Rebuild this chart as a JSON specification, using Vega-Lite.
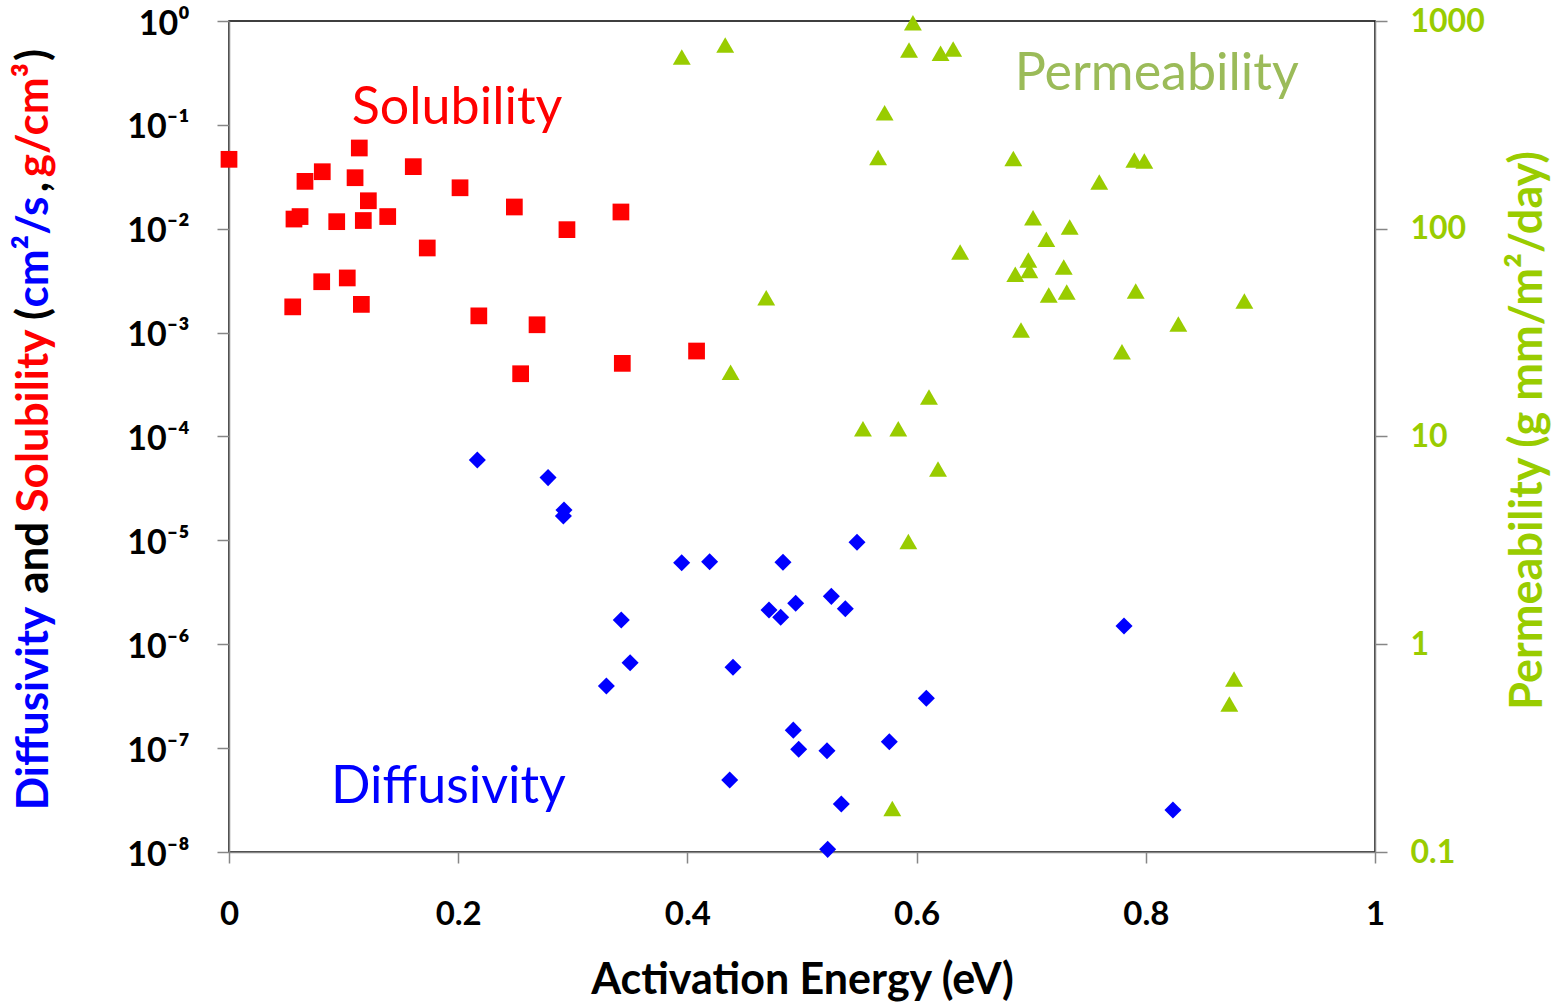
{
  "$schema": "https://vega.github.io/schema/vega-lite/v6.json",
  "width": 1146,
  "height": 831,
  "autosize": "none",
  "padding": {"left": 229, "top": 21, "right": 182, "bottom": 153},
  "background": "white",
  "config": {
    "view": {"stroke": "#000000", "strokeWidth": 1.5},
    "axis": {"grid": false, "labelFlush": false, "labelOverlap": false, "labelBound": false}
  },
  "datasets": {
    "sol": [
      {"e": 0.000, "v": 0.0466}, {"e": 0.1137, "v": 0.0599}, {"e": 0.0814, "v": 0.0354}, {"e": 0.0663, "v": 0.0286},
      {"e": 0.110, "v": 0.031}, {"e": 0.1608, "v": 0.0396}, {"e": 0.1216, "v": 0.0186}, {"e": 0.2016, "v": 0.0248},
      {"e": 0.0567, "v": 0.0124}, {"e": 0.062, "v": 0.0131}, {"e": 0.094, "v": 0.0117}, {"e": 0.1172, "v": 0.0120},
      {"e": 0.1385, "v": 0.0131}, {"e": 0.249, "v": 0.0162}, {"e": 0.342, "v": 0.0145}, {"e": 0.2949, "v": 0.0098},
      {"e": 0.173, "v": 0.00653}, {"e": 0.0809, "v": 0.00309}, {"e": 0.1032, "v": 0.00336}, {"e": 0.0556, "v": 0.00177},
      {"e": 0.1155, "v": 0.00187}, {"e": 0.218, "v": 0.00145}, {"e": 0.2688, "v": 0.00119}, {"e": 0.408, "v": 0.000665},
      {"e": 0.3432, "v": 0.000506}, {"e": 0.2545, "v": 0.000402}
    ],
    "dif": [
      {"e": 0.2167, "v": 5.94e-5}, {"e": 0.2784, "v": 4.02e-5}, {"e": 0.2923, "v": 1.96e-5}, {"e": 0.2918, "v": 1.72e-5},
      {"e": 0.548, "v": 9.6e-6}, {"e": 0.395, "v": 6.1e-6}, {"e": 0.4194, "v": 6.24e-6}, {"e": 0.4834, "v": 6.15e-6},
      {"e": 0.5256, "v": 2.89e-6}, {"e": 0.4945, "v": 2.48e-6}, {"e": 0.4712, "v": 2.14e-6}, {"e": 0.5378, "v": 2.2e-6},
      {"e": 0.4814, "v": 1.82e-6}, {"e": 0.3423, "v": 1.71e-6}, {"e": 0.350, "v": 6.64e-7}, {"e": 0.4398, "v": 6.0e-7},
      {"e": 0.3293, "v": 3.96e-7}, {"e": 0.6085, "v": 3.02e-7}, {"e": 0.4924, "v": 1.49e-7}, {"e": 0.5762, "v": 1.15e-7},
      {"e": 0.4971, "v": 9.73e-8}, {"e": 0.5218, "v": 9.45e-8}, {"e": 0.4369, "v": 4.93e-8}, {"e": 0.5343, "v": 2.9e-8},
      {"e": 0.5224, "v": 1.06e-8}, {"e": 0.781, "v": 1.5e-6}, {"e": 0.8237, "v": 2.54e-8}
    ],
    "perm": [
      {"e": 0.3951, "v": 671}, {"e": 0.433, "v": 766}, {"e": 0.5968, "v": 981}, {"e": 0.5934, "v": 725},
      {"e": 0.6209, "v": 699}, {"e": 0.6319, "v": 733}, {"e": 0.5721, "v": 362}, {"e": 0.5664, "v": 220},
      {"e": 0.6844, "v": 218}, {"e": 0.790, "v": 214}, {"e": 0.7987, "v": 212}, {"e": 0.7594, "v": 168},
      {"e": 0.7016, "v": 113}, {"e": 0.7336, "v": 102}, {"e": 0.7132, "v": 89}, {"e": 0.638, "v": 77.3},
      {"e": 0.6975, "v": 70.8}, {"e": 0.6984, "v": 62.9}, {"e": 0.6861, "v": 60.4}, {"e": 0.7284, "v": 65.5},
      {"e": 0.7153, "v": 48}, {"e": 0.731, "v": 49.6}, {"e": 0.7912, "v": 50.2}, {"e": 0.886, "v": 44.9},
      {"e": 0.4688, "v": 46.6}, {"e": 0.6911, "v": 32.6}, {"e": 0.8284, "v": 34.8}, {"e": 0.7792, "v": 25.6},
      {"e": 0.4377, "v": 20.4}, {"e": 0.6108, "v": 15.5}, {"e": 0.5532, "v": 10.9}, {"e": 0.584, "v": 10.9},
      {"e": 0.6187, "v": 6.97}, {"e": 0.5928, "v": 3.12}, {"e": 0.877, "v": 0.680}, {"e": 0.8729, "v": 0.516},
      {"e": 0.5788, "v": 0.162}
    ],
    "notes": [
      {"e": 0.199, "v": 0.1019, "t": "Solubility", "k": "S"},
      {"e": 0.8095, "v": 0.2167, "t": "Permeability", "k": "PL"},
      {"e": 0.1915, "v": 2.96e-8, "t": "Diffusivity", "k": "D"}
    ],
    "ytitle": [
      {"e": -0.1579, "v": 2.405e-7, "t": "Diffusivity", "k": "D"},
      {"e": -0.1579, "v": 6.8e-6, "t": "and", "k": "o"},
      {"e": -0.1579, "v": 1.41e-4, "t": "Solubility", "k": "S"},
      {"e": -0.1579, "v": 1.51e-3, "t": "(", "k": "o"},
      {"e": -0.1579, "v": 5.97e-3, "t": "cm²/s", "k": "D"},
      {"e": -0.1579, "v": 0.0252, "t": ",", "k": "o"},
      {"e": -0.1579, "v": 0.1114, "t": "g/cm³", "k": "S"},
      {"e": -0.1579, "v": 0.4700, "t": ")", "k": "o"}
    ]
  },
  "encoding": {
    "x": {
      "field": "e", "type": "quantitative",
      "scale": {"domain": [0, 1], "nice": false, "zero": false},
      "axis": {
        "values": [0, 0.2, 0.4, 0.6, 0.8, 1], "format": "~g",
        "domainColor": "#868686", "domainWidth": 1.5, "tickColor": "#868686", "tickWidth": 1.5, "tickSize": 11,
        "labelFont": "Lato", "labelFontWeight": "bold", "labelFontSize": 33, "labelColor": "#000000", "labelPadding": 35,
        "title": "Activation Energy (eV)", "titleFont": "Lato", "titleFontWeight": "bold", "titleFontSize": 43,
        "titleColor": "#000000", "titleBaseline": "alphabetic", "titleY": 141
      }
    }
  },
  "layer": [
    {
      "encoding": {
        "y": {
          "field": "v", "type": "quantitative",
          "scale": {"type": "log", "domain": [1e-8, 1], "nice": false},
          "axis": {
            "values": [1e-8, 1e-7, 1e-6, 1e-5, 1e-4, 1e-3, 1e-2, 1e-1, 1],
            "labelExpr": "'10' + ['⁰','⁻¹','⁻²','⁻³','⁻⁴','⁻⁵','⁻⁶','⁻⁷','⁻⁸'][round(-log(datum.value)/LN10)]",
            "domainColor": "#868686", "domainWidth": 1.5, "tickColor": "#868686", "tickWidth": 1.5, "tickSize": 12,
            "labelFont": "Lato", "labelFontWeight": "bold", "labelFontSize": 34, "labelColor": "#000000", "labelPadding": 28,
            "labelOffset": 3, "title": null
          }
        }
      },
      "layer": [
        {"data": {"name": "sol"}, "mark": {"type": "point", "shape": "square", "filled": true, "color": "#FF0000", "size": 280, "opacity": 1}},
        {"data": {"name": "dif"}, "mark": {"type": "point", "shape": "diamond", "filled": true, "color": "#0000FF", "size": 290, "opacity": 1}},
        {
          "data": {"name": "notes"},
          "mark": {"type": "text", "font": "Lato", "fontSize": 52, "align": "center", "baseline": "alphabetic"},
          "encoding": {
            "text": {"field": "t"},
            "color": {"field": "k", "type": "nominal", "scale": {"domain": ["D", "S", "PL", "o"], "range": ["#0000FF", "#FF0000", "#9BBB59", "#000000"]}, "legend": null}
          }
        },
        {
          "data": {"name": "ytitle"},
          "mark": {"type": "text", "font": "Lato", "fontSize": 44, "fontWeight": "bold", "angle": 270, "align": "center", "baseline": "alphabetic"},
          "encoding": {
            "text": {"field": "t"},
            "color": {"field": "k", "type": "nominal", "scale": {"domain": ["D", "S", "PL", "o"], "range": ["#0000FF", "#FF0000", "#9BBB59", "#000000"]}, "legend": null}
          }
        }
      ]
    },
    {
      "data": {"name": "perm"},
      "mark": {"type": "point", "shape": "triangle-up", "filled": true, "color": "#99CC00", "size": 320, "opacity": 1},
      "encoding": {
        "y": {
          "field": "v", "type": "quantitative",
          "scale": {"type": "log", "domain": [0.1, 1000], "nice": false},
          "axis": {
            "orient": "right", "values": [0.1, 1, 10, 100, 1000], "format": "~g",
            "domainColor": "#868686", "domainWidth": 1.5, "tickColor": "#868686", "tickWidth": 1.5, "tickSize": 12,
            "labelFont": "Lato", "labelFontWeight": "bold", "labelFontSize": 32, "labelColor": "#99CC00", "labelPadding": 23,
            "title": "Permeability (g mm/m²/day)", "titleFont": "Lato", "titleFontWeight": "bold", "titleFontSize": 45,
            "titleColor": "#99CC00", "titleAngle": 270, "titleX": 152, "titleY": 409, "titleBaseline": "middle", "titleAlign": "center"
          }
        }
      }
    }
  ],
  "resolve": {"scale": {"y": "independent"}}
}
